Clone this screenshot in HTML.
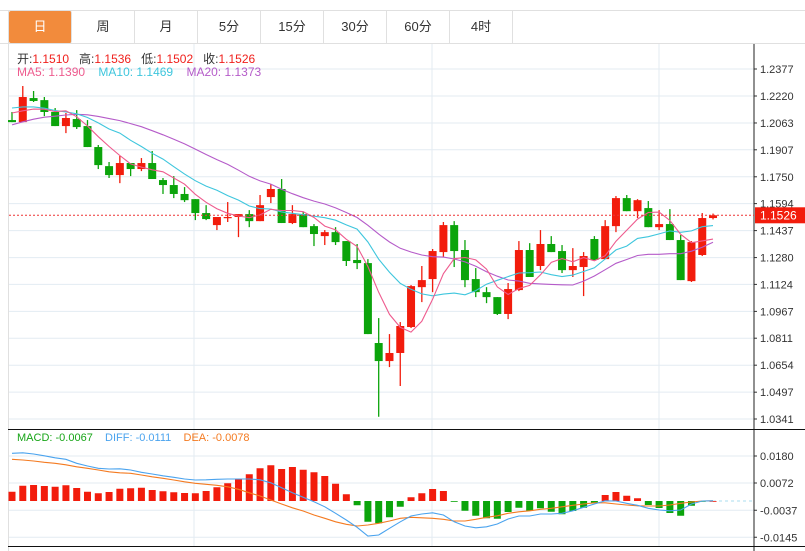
<!DOCTYPE html>
<html><head><meta charset="utf-8">
<style>
body{margin:0;background:#fff;font-family:"Liberation Sans","Noto Sans CJK SC",sans-serif;}
#wrap{position:relative;width:805px;height:551px;overflow:hidden;}
.tab{position:absolute;top:11px;height:32px;width:62px;border-right:1px solid #e0e0e0;font-size:13px;color:#333;text-align:center;line-height:32px;}
.leg{position:absolute;font-size:12px;white-space:nowrap;}
</style></head>
<body>
<div id="wrap">
<div style="position:absolute;left:0;top:10px;width:805px;height:1px;background:#e0e0e0"></div>
<div style="position:absolute;left:0;top:43px;width:805px;height:1px;background:#e0e0e0"></div>
<div style="position:absolute;left:8px;top:10px;width:1px;height:541px;background:#e0e0e0"></div>
<div class="tab" style="left:9px;background:#f28b3c;color:#fff;border-radius:2px">日</div>
<div class="tab" style="left:72px">周</div>
<div class="tab" style="left:135px">月</div>
<div class="tab" style="left:198px">5分</div>
<div class="tab" style="left:261px">15分</div>
<div class="tab" style="left:324px">30分</div>
<div class="tab" style="left:387px">60分</div>
<div class="tab" style="left:450px">4时</div>

<svg id="svg" width="805" height="551" style="position:absolute;left:0;top:0"></svg>

<div class="leg" style="left:17px;top:50px;color:#333">开:<span style="color:#f0201c">1.1510</span>&nbsp;&nbsp; 高:<span style="color:#f0201c">1.1536</span>&nbsp;&nbsp; 低:<span style="color:#f0201c">1.1502</span>&nbsp;&nbsp; 收:<span style="color:#f0201c">1.1526</span></div>
<div class="leg" style="left:17px;top:65px"><span style="color:#ee5b8e">MA5: 1.1390</span>&nbsp;&nbsp;&nbsp; <span style="color:#3ec6dd">MA10: 1.1469</span>&nbsp;&nbsp;&nbsp; <span style="color:#b55bc9">MA20: 1.1373</span></div>
<div class="leg" style="left:17px;top:432px;font-size:11px"><span style="color:#17a517">MACD: -0.0067</span>&nbsp;&nbsp;&nbsp; <span style="color:#4aa3ee">DIFF: -0.0111</span>&nbsp;&nbsp;&nbsp; <span style="color:#f47a20">DEA: -0.0078</span></div>
</div>
<script>
const opens=[1.2080,1.2068,1.2208,1.2196,1.2127,1.2045,1.2086,1.2045,1.1923,1.1812,1.1760,1.1830,1.1795,1.1830,1.1731,1.1702,1.1650,1.1620,1.1539,1.1469,1.1513,1.1516,1.1533,1.1492,1.1632,1.1679,1.1481,1.1533,1.1463,1.1405,1.1428,1.1376,1.1266,1.1248,1.0783,1.0678,1.0725,1.0876,1.1108,1.1155,1.1312,1.1469,1.1324,1.1155,1.1079,1.1050,1.0952,1.1091,1.1324,1.1231,1.1359,1.1318,1.1207,1.1225,1.1388,1.1271,1.1463,1.1626,1.1550,1.1568,1.1457,1.1475,1.1382,1.1143,1.1295,1.1510];
const highs=[1.2127,1.2278,1.2249,1.2214,1.2150,1.2121,1.2138,1.2080,1.1935,1.1836,1.1871,1.1830,1.1859,1.1900,1.1743,1.1754,1.1690,1.1620,1.1585,1.1516,1.1603,1.1533,1.1556,1.1644,1.1708,1.1737,1.1585,1.1545,1.1475,1.1440,1.1457,1.1376,1.1359,1.1271,1.0928,1.0835,1.0905,1.1120,1.1231,1.1330,1.1487,1.1492,1.1382,1.1219,1.1108,1.1050,1.1132,1.1376,1.1364,1.1440,1.1405,1.1353,1.1335,1.1312,1.1405,1.1498,1.1638,1.1644,1.1620,1.1609,1.1556,1.1562,1.1411,1.1376,1.1539,1.1536];
const lows=[1.2068,1.2068,1.2185,1.2103,1.2045,1.2004,1.2028,1.1923,1.1795,1.1743,1.1713,1.1754,1.1783,1.1737,1.1650,1.1626,1.1603,1.1498,1.1498,1.1440,1.1487,1.1399,1.1457,1.1492,1.1597,1.1481,1.1475,1.1457,1.1347,1.1353,1.1353,1.1231,1.1213,1.0835,1.0354,1.0643,1.0533,1.0870,1.1021,1.1079,1.1283,1.1225,1.1108,1.1050,1.1015,1.0946,1.0922,1.1085,1.1167,1.1207,1.1312,1.1190,1.1167,1.1056,1.1266,1.1271,1.1428,1.1550,1.1510,1.1457,1.1440,1.1382,1.1149,1.1138,1.1289,1.1502];
const closes=[1.2068,1.2214,1.2191,1.2127,1.2045,1.2092,1.2039,1.1923,1.1818,1.1760,1.1830,1.1795,1.1830,1.1737,1.1702,1.1650,1.1614,1.1539,1.1504,1.1516,1.1516,1.1533,1.1492,1.1585,1.1679,1.1481,1.1533,1.1457,1.1417,1.1428,1.1370,1.1260,1.1248,1.0835,1.0678,1.0725,1.0882,1.1114,1.1149,1.1318,1.1469,1.1318,1.1149,1.1079,1.1050,1.0952,1.1097,1.1324,1.1167,1.1359,1.1312,1.1207,1.1231,1.1289,1.1266,1.1463,1.1626,1.1550,1.1614,1.1457,1.1475,1.1382,1.1149,1.1370,1.1510,1.1526];
const priorCloses=[1.1860,1.1880,1.1900,1.1930,1.1950,1.1960,1.1980,1.2000,1.2020,1.2060,1.2150,1.2190,1.2200,1.2180,1.2175,1.2150,1.2140,1.2130,1.2117];
const priceTicks=[1.2377,1.2220,1.2063,1.1907,1.1750,1.1594,1.1437,1.1280,1.1124,1.0967,1.0811,1.0654,1.0497,1.0341];
const macdHist=[0.0037,0.0061,0.0064,0.0060,0.0057,0.0063,0.0052,0.0037,0.0031,0.0036,0.0049,0.0051,0.0053,0.0044,0.0039,0.0035,0.0032,0.0031,0.0040,0.0055,0.0071,0.0087,0.0107,0.0131,0.0143,0.0128,0.0136,0.0125,0.0115,0.0100,0.0069,0.0027,-0.0017,-0.0083,-0.0089,-0.0065,-0.0023,0.0015,0.0031,0.0048,0.0040,-0.0003,-0.0039,-0.0059,-0.0069,-0.0071,-0.0044,-0.0027,-0.0040,-0.0029,-0.0043,-0.0053,-0.0040,-0.0027,-0.0008,0.0024,0.0036,0.0021,0.0011,-0.0016,-0.0028,-0.0048,-0.0059,-0.0019,-0.0003,0.0000];
const diffVals=[0.0191,0.0193,0.0188,0.0181,0.0173,0.0167,0.0151,0.0140,0.0131,0.0128,0.0129,0.0124,0.0115,0.0108,0.0101,0.0095,0.0088,0.0084,0.0085,0.0087,0.0088,0.0088,0.0088,0.0085,0.0073,0.0053,0.0033,0.0015,-0.0003,-0.0023,-0.0049,-0.0076,-0.0105,-0.0140,-0.0136,-0.0109,-0.0083,-0.0060,-0.0052,-0.0047,-0.0056,-0.0083,-0.0100,-0.0107,-0.0103,-0.0092,-0.0072,-0.0060,-0.0060,-0.0052,-0.0052,-0.0049,-0.0039,-0.0025,-0.0012,0.0001,0.0000,-0.0009,-0.0017,-0.0029,-0.0036,-0.0039,-0.0036,-0.0012,0.0000,0.0001];
const deaVals=[0.0167,0.0164,0.0160,0.0155,0.0151,0.0145,0.0137,0.0131,0.0124,0.0117,0.0113,0.0111,0.0104,0.0097,0.0091,0.0084,0.0077,0.0071,0.0067,0.0063,0.0057,0.0047,0.0033,0.0020,0.0004,-0.0012,-0.0027,-0.0040,-0.0056,-0.0069,-0.0083,-0.0093,-0.0100,-0.0096,-0.0089,-0.0080,-0.0069,-0.0065,-0.0067,-0.0069,-0.0073,-0.0080,-0.0080,-0.0073,-0.0065,-0.0059,-0.0049,-0.0043,-0.0039,-0.0033,-0.0029,-0.0023,-0.0017,-0.0012,-0.0007,-0.0007,-0.0012,-0.0016,-0.0019,-0.0020,-0.0020,-0.0016,-0.0009,-0.0004,0.0000,0.0001];
const macdTicks=[0.0180,0.0072,-0.0037,-0.0145];
const lastPrice=1.1526;

const NS='http://www.w3.org/2000/svg';
const svg=document.getElementById('svg');
const RED='#f21c0c',GREEN='#0ba40b';
function xAt(i){return 12+i*10.785;}
function yP(p){return 69+(1.2377-p)*(350/(1.2377-1.0341));}
function yM(v){return 501-v*2500;}
function mk(tag,attrs,parent){const e=document.createElementNS(NS,tag);for(const k in attrs)e.setAttribute(k,attrs[k]);(parent||svg).appendChild(e);return e;}

priceTicks.forEach(p=>{
  const g=mk('line',{x1:9,x2:754,y1:yP(p),y2:yP(p),stroke:'#e3ebf2','stroke-width':1});
  
  
  const t=mk('line',{x1:754,x2:757,y1:yP(p),y2:yP(p),stroke:'#333'});
  
  
  const l=mk('text',{x:760,y:yP(p)+4,'font-size':11,fill:'#333','font-family':'Liberation Sans, sans-serif'});
  l.textContent=p.toFixed(4);
  
  
});
macdTicks.forEach(v=>{
  const g=mk('line',{x1:9,x2:754,y1:yM(v),y2:yM(v),stroke:'#e3ebf2'});
  
  
  const t=mk('line',{x1:754,x2:757,y1:yM(v),y2:yM(v),stroke:'#333'});
  
  
  const l=mk('text',{x:760,y:yM(v)+4,'font-size':11,fill:'#333','font-family':'Liberation Sans, sans-serif'});
  l.textContent=v.toFixed(4);
  
  
});
[194,432,659].forEach(x=>{
  const v=mk('line',{x1:x,x2:x,y1:44,y2:546,stroke:'#e3ebf2'});
  
  
});
let ax=mk('line',{x1:754,x2:754,y1:44,y2:551,stroke:'#222','stroke-width':1});


let sep=mk('line',{x1:8,x2:805,y1:429.5,y2:429.5,stroke:'#111','stroke-width':1});


let sep2=mk('line',{x1:8,x2:805,y1:546.5,y2:546.5,stroke:'#111','stroke-width':1});



closes.forEach((c,i)=>{
  const o=opens[i],up=c>=o,col=up?RED:GREEN,x=xAt(i);
  const w=mk('line',{x1:x,x2:x,y1:yP(highs[i]),y2:yP(lows[i]),stroke:col,'stroke-width':1.3});
  
  
  const top=yP(Math.max(o,c)),h=Math.max(1.2,yP(Math.min(o,c))-top);
  const b=mk('rect',{x:x-4,y:top,width:8,height:h,fill:col});
  
  
});

const all=priorCloses.concat(closes),off=priorCloses.length;
function maLine(n,color,name){
  const pts=closes.map((c,i)=>{let s=0;for(let k=0;k<n;k++)s+=all[off+i-k];return xAt(i).toFixed(1)+','+yP(s/n).toFixed(1);});
  const pl=mk('polyline',{points:pts.join(' '),fill:'none',stroke:color,'stroke-width':1.1});
  
  
}
maLine(20,'#b55bc9','ma20-line');
maLine(10,'#3ec6dd','ma10-line');
maLine(5,'#ee5b8e','ma5-line');

let lp=mk('line',{x1:9,x2:754,y1:yP(lastPrice),y2:yP(lastPrice),stroke:'#e33','stroke-dasharray':'2,2'});


let lb=mk('rect',{x:755,y:yP(lastPrice)-8,width:50,height:16,fill:'#f21c0c'});


let lt=mk('text',{x:760,y:yP(lastPrice)+4,'font-size':12,fill:'#fff','font-family':'Liberation Sans, sans-serif'});
lt.textContent=lastPrice.toFixed(4);



let zl=mk('line',{x1:xAt(closes.length-1),x2:754,y1:yM(0),y2:yM(0),stroke:'#a9dcef','stroke-dasharray':'3,3'});


macdHist.forEach((v,i)=>{
  const y0=yM(0),y1=yM(v);
  const r=mk('rect',{x:xAt(i)-3.5,y:Math.min(y0,y1),width:7,height:Math.max(0.8,Math.abs(y1-y0)),fill:v>=0?RED:GREEN});
  
  
});
function mline(arr,color,name){
  const pl=mk('polyline',{points:arr.map((v,i)=>xAt(i).toFixed(1)+','+yM(v).toFixed(1)).join(' '),fill:'none',stroke:color,'stroke-width':1.1});
  
  
}
mline(deaVals,'#f47a20','dea-line');
mline(diffVals,'#4aa3ee','diff-line');
</script>
</body></html>
